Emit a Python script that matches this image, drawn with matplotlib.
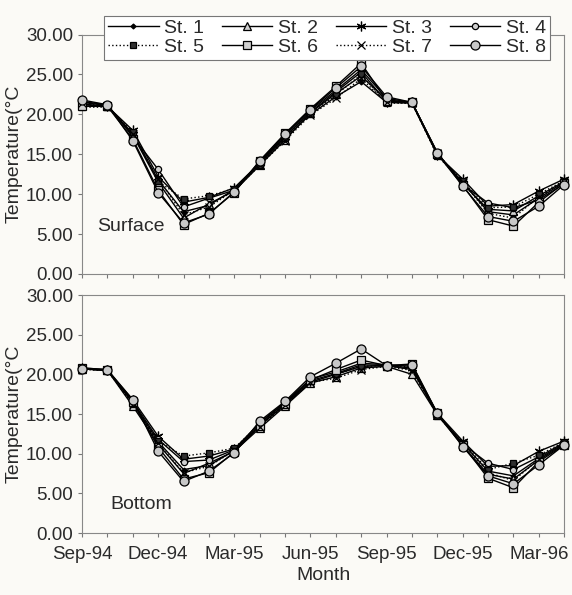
import matplotlib
matplotlib.use('Agg')
import matplotlib.pyplot as plt
import numpy as np

plt.rcParams['font.family'] = ['Liberation Sans Narrow', 'Liberation Sans', 'DejaVu Sans']

months = ['Sep-94', 'Oct-94', 'Nov-94', 'Dec-94', 'Jan-95', 'Feb-95', 'Mar-95',
          'Apr-95', 'May-95', 'Jun-95', 'Jul-95', 'Aug-95', 'Sep-95', 'Oct-95',
          'Nov-95', 'Dec-95', 'Jan-96', 'Feb-96', 'Mar-96', 'Apr-96']
stations = ['St. 1', 'St. 2', 'St. 3', 'St. 4', 'St. 5', 'St. 6', 'St. 7', 'St. 8']

# surface temperature, one list per station
surf_st1 = [21.3, 21.0, 17.6, 11.8, 7.8, 8.6, 10.6, 13.8, 17.0, 20.0, 22.2, 24.1, 21.5, 21.4, 15.0, 11.5, 7.8, 7.4, 9.5, 11.5]
surf_st2 = [21.5, 21.1, 17.4, 11.5, 7.0, 8.8, 10.4, 13.6, 16.8, 20.2, 22.6, 24.8, 21.8, 21.5, 15.1, 11.3, 8.1, 7.9, 9.8, 11.6]
surf_st3 = [21.2, 21.0, 18.0, 12.2, 9.0, 9.6, 10.8, 13.9, 17.2, 20.3, 22.8, 25.3, 21.6, 21.5, 14.9, 11.9, 8.5, 8.7, 10.4, 11.9]
surf_st4 = [21.6, 21.2, 17.2, 13.1, 8.4, 9.5, 10.5, 14.0, 17.4, 20.5, 23.0, 25.6, 22.0, 21.5, 15.2, 11.2, 8.9, 8.3, 9.3, 11.3]
surf_st5 = [20.9, 20.9, 17.8, 11.6, 9.4, 9.8, 10.7, 13.7, 17.0, 20.1, 22.4, 25.0, 21.4, 21.4, 14.8, 11.6, 8.3, 8.4, 10.0, 11.7]
surf_st6 = [21.0, 21.0, 16.9, 10.5, 6.2, 7.6, 10.2, 14.2, 17.6, 20.7, 23.5, 26.4, 21.7, 21.5, 15.0, 11.1, 6.8, 6.0, 9.0, 11.4]
surf_st7 = [21.4, 21.1, 17.5, 11.9, 7.4, 8.4, 10.5, 13.6, 16.7, 19.9, 22.0, 24.5, 21.5, 21.4, 15.1, 11.5, 7.6, 7.0, 9.7, 11.5]
surf_st8 = [21.8, 21.2, 16.7, 10.2, 6.4, 7.5, 10.3, 14.1, 17.5, 20.6, 23.3, 26.0, 22.2, 21.5, 15.2, 11.0, 7.2, 6.6, 8.5, 11.2]

# bottom temperature
bot_st1 = [20.7, 20.5, 16.4, 11.5, 8.0, 8.5, 10.4, 13.6, 16.2, 19.0, 20.0, 21.0, 21.1, 20.6, 15.0, 11.3, 7.8, 7.2, 9.4, 11.3]
bot_st2 = [20.7, 20.5, 16.0, 11.2, 7.5, 8.8, 10.3, 13.2, 16.0, 18.9, 19.7, 20.8, 21.0, 20.0, 14.9, 11.0, 7.4, 6.8, 9.2, 11.2]
bot_st3 = [20.8, 20.6, 16.8, 12.2, 9.3, 9.7, 10.6, 13.8, 16.4, 19.2, 20.1, 21.2, 21.1, 20.8, 15.1, 11.6, 8.4, 8.5, 10.3, 11.6]
bot_st4 = [20.7, 20.5, 16.6, 11.8, 9.0, 9.2, 10.5, 13.9, 16.5, 19.4, 20.3, 21.4, 21.2, 21.0, 15.0, 11.2, 8.8, 8.0, 9.6, 11.4]
bot_st5 = [20.6, 20.5, 16.3, 11.6, 9.7, 10.1, 10.7, 13.7, 16.3, 19.1, 20.0, 21.0, 21.1, 20.9, 14.8, 11.4, 8.0, 8.8, 9.8, 11.5]
bot_st6 = [20.8, 20.6, 16.5, 10.8, 6.8, 7.6, 10.2, 13.5, 16.2, 19.3, 20.6, 21.8, 21.1, 21.3, 15.1, 11.1, 6.9, 5.7, 9.0, 11.1]
bot_st7 = [20.7, 20.5, 16.2, 11.3, 7.6, 8.4, 10.4, 13.4, 16.1, 19.0, 19.5, 20.6, 21.0, 20.5, 14.9, 11.3, 7.6, 6.6, 9.3, 11.3]
bot_st8 = [20.7, 20.5, 16.8, 10.3, 6.5, 7.8, 10.1, 14.1, 16.6, 19.7, 21.4, 23.2, 21.1, 21.2, 15.1, 10.9, 7.2, 6.2, 8.6, 11.1]

surface = [surf_st1, surf_st2, surf_st3, surf_st4, surf_st5, surf_st6, surf_st7, surf_st8]
bottom = [bot_st1, bot_st2, bot_st3, bot_st4, bot_st5, bot_st6, bot_st7, bot_st8]

# line style, marker, marker face, marker size per station
styles = [
    ('-', 'D', 'black', 2.5),
    ('-', '^', '#d0d0d0', 5.5),
    ('-', (6, 2, 0), 'black', 7),
    ('-', 'o', '#d0d0d0', 4.5),
    (':', 's', '#303030', 5),
    ('-', 's', '#d0d0d0', 6),
    (':', 'x', 'black', 5.5),
    ('-', 'o', '#c8c8c8', 6.5),
]

bg = '#fbfaf6'
txt = '#2a2a2a'
fig = plt.figure(figsize=(5.72, 5.95), dpi=100, facecolor=bg)
ax1 = fig.add_axes([0.1434, 0.5395, 0.843, 0.4025])
ax2 = fig.add_axes([0.1434, 0.1042, 0.843, 0.400])

x = np.arange(len(months))
handles = []
for ax, data, label, lx, ly in [(ax1, surface, 'Surface', 0.6, 6.0),
                                (ax2, bottom, 'Bottom', 1.1, 3.6)]:
    ax.set_facecolor(bg)
    for i, vals in enumerate(data):
        ls, mk, fc, ms = styles[i]
        h, = ax.plot(x, vals, linestyle=ls, color='black', lw=1.0,
                     marker=mk, markersize=ms, markerfacecolor=fc,
                     markeredgecolor='black', markeredgewidth=0.9,
                     label=stations[i], clip_on=False, zorder=3 + i)
        if ax is ax1:
            handles.append(h)
    ax.set_xlim(0, len(months) - 1)
    ax.set_ylim(0, 30)
    ax.set_yticks(np.arange(0, 31, 5))
    ax.set_yticklabels(['%.2f' % v for v in np.arange(0, 31, 5)])
    ax.set_xticks(x[::3])
    ax.set_xticks(x, minor=True)
    ax.tick_params(axis='both', which='both', direction='out', length=3,
                   width=0.8, color='#777777', labelsize=13.5, labelcolor=txt)
    ax.tick_params(axis='x', pad=6)
    for s in ax.spines.values():
        s.set_color('#888888')
        s.set_linewidth(0.8)
    ax.set_ylabel('Temperature(°C', fontsize=14, color=txt, labelpad=2)
    ax.text(lx, ly, label, fontsize=14, color=txt, va='center', ha='left')

ax1.set_xticklabels([])
ax2.set_xticklabels(months[::3])
ax2.set_xlabel('Month', fontsize=14, color=txt, labelpad=3)

order = [0, 4, 1, 5, 2, 6, 3, 7]
leg = fig.legend([handles[i] for i in order], [stations[i] for i in order],
                 ncol=4, loc='upper left', bbox_to_anchor=(0.165, 0.99),
                 fontsize=14, frameon=True, fancybox=False, handlelength=2.6,
                 handletextpad=0.3, columnspacing=0.9, labelspacing=0.05,
                 borderpad=0.2, edgecolor='#777777', facecolor='white',
                 framealpha=1.0)
leg.get_frame().set_linewidth(0.8)
for t in leg.get_texts():
    t.set_color(txt)

fig.savefig('out.png', dpi=100, facecolor=bg)
